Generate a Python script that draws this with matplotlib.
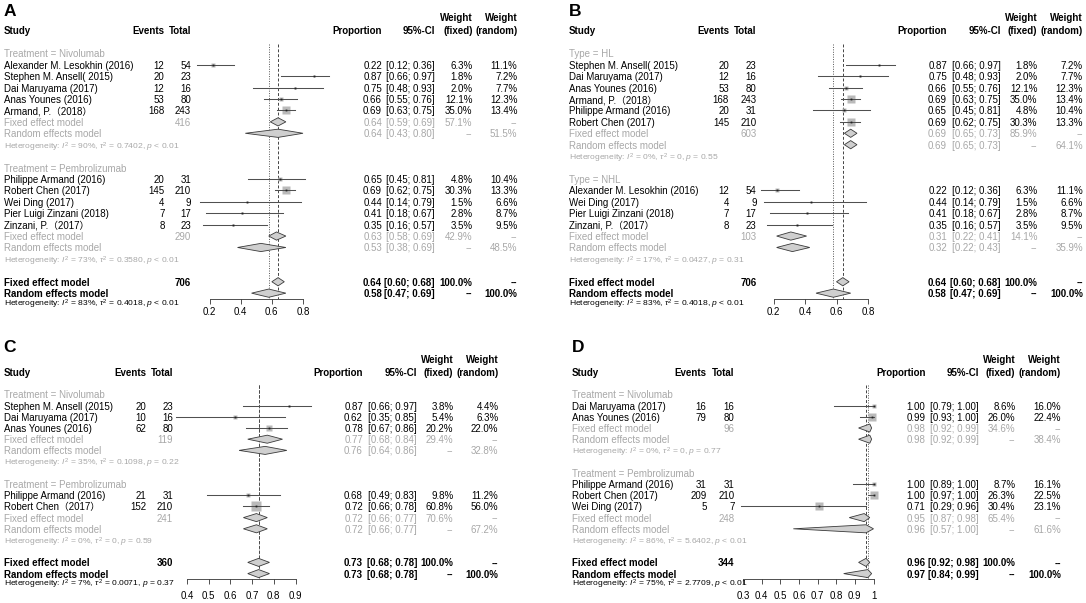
"""Forest plots of pooled response proportions (panels A-D)"""

import numpy as np
import matplotlib.pyplot as plt
from matplotlib.patches import Polygon
from matplotlib.transforms import blended_transform_factory

plt.rcParams["font.family"] = ["Liberation Sans", "Noto Sans CJK SC"]
plt.rcParams["mathtext.fontset"] = "custom"
plt.rcParams["mathtext.rm"] = "Liberation Sans"
plt.rcParams["mathtext.it"] = "Liberation Sans:italic"
plt.rcParams["mathtext.bf"] = "Liberation Sans:bold"

W, H = 1086, 603
GREY = "#a8a8a8"
FS = 7.0
FS_HET = 6.1

# ---- panel A: subgroups by treatment
A_GROUPS = ["Treatment = Nivolumab", "Treatment = Pembrolizumab"]
A_STUDY = ["Alexander M. Lesokhin (2016)", "Stephen M. Ansell( 2015)",
           "Dai Maruyama (2017)", "Anas Younes (2016)", "Armand, P.（2018）",
           "Philippe Armand (2016)", "Robert Chen (2017)", "Wei Ding (2017)",
           "Pier Luigi Zinzani (2018)", "Zinzani, P.（2017）"]
A_GROUP = [0, 0, 0, 0, 0, 1, 1, 1, 1, 1]
A_EVENTS = [12, 20, 12, 53, 168, 20, 145, 4, 7, 8]
A_TOTAL = [54, 23, 16, 80, 243, 31, 210, 9, 17, 23]
A_PROP = [0.22, 0.87, 0.75, 0.66, 0.69, 0.65, 0.69, 0.44, 0.41, 0.35]
A_LOW = [0.12, 0.66, 0.48, 0.55, 0.63, 0.45, 0.62, 0.14, 0.18, 0.16]
A_UPP = [0.36, 0.97, 0.93, 0.76, 0.75, 0.81, 0.75, 0.79, 0.67, 0.57]
A_W_FIXED = [6.3, 1.8, 2.0, 12.1, 35.0, 4.8, 30.3, 1.5, 2.8, 3.5]
A_W_RANDOM = [11.1, 7.2, 7.7, 12.3, 13.4, 10.4, 13.3, 6.6, 8.7, 9.5]
A_SUB_N = [416, 290]
A_SUB_FIXED = [[0.64, 0.59, 0.69], [0.63, 0.58, 0.69]]
A_SUB_RANDOM = [[0.64, 0.43, 0.80], [0.53, 0.38, 0.69]]
A_SUB_W = [[57.1, 51.5], [42.9, 48.5]]
A_SUB_HET = [["90%", "0.7402", "< 0.01"], ["73%", "0.3580", "< 0.01"]]
A_N = 706
A_FIXED = [0.64, 0.60, 0.68]
A_RANDOM = [0.58, 0.47, 0.69]
A_HET = ["83%", "0.4018", "< 0.01"]
A_TICKS = [0.2, 0.4, 0.6, 0.8]

# ---- panel B: subgroups by lymphoma type
B_GROUPS = ["Type = HL", "Type = NHL"]
B_STUDY = ["Stephen M. Ansell( 2015)", "Dai Maruyama (2017)", "Anas Younes (2016)",
           "Armand, P.（2018）", "Philippe Armand (2016)", "Robert Chen (2017)",
           "Alexander M. Lesokhin (2016)", "Wei Ding (2017)",
           "Pier Luigi Zinzani (2018)", "Zinzani, P.（2017）"]
B_GROUP = [0, 0, 0, 0, 0, 0, 1, 1, 1, 1]
B_EVENTS = [20, 12, 53, 168, 20, 145, 12, 4, 7, 8]
B_TOTAL = [23, 16, 80, 243, 31, 210, 54, 9, 17, 23]
B_PROP = [0.87, 0.75, 0.66, 0.69, 0.65, 0.69, 0.22, 0.44, 0.41, 0.35]
B_LOW = [0.66, 0.48, 0.55, 0.63, 0.45, 0.62, 0.12, 0.14, 0.18, 0.16]
B_UPP = [0.97, 0.93, 0.76, 0.75, 0.81, 0.75, 0.36, 0.79, 0.67, 0.57]
B_W_FIXED = [1.8, 2.0, 12.1, 35.0, 4.8, 30.3, 6.3, 1.5, 2.8, 3.5]
B_W_RANDOM = [7.2, 7.7, 12.3, 13.4, 10.4, 13.3, 11.1, 6.6, 8.7, 9.5]
B_SUB_N = [603, 103]
B_SUB_FIXED = [[0.69, 0.65, 0.73], [0.31, 0.22, 0.41]]
B_SUB_RANDOM = [[0.69, 0.65, 0.73], [0.32, 0.22, 0.43]]
B_SUB_W = [[85.9, 64.1], [14.1, 35.9]]
B_SUB_HET = [["0%", "0", "= 0.55"], ["17%", "0.0427", "= 0.31"]]
B_N = 706
B_FIXED = [0.64, 0.60, 0.68]
B_RANDOM = [0.58, 0.47, 0.69]
B_HET = ["83%", "0.4018", "< 0.01"]
B_TICKS = [0.2, 0.4, 0.6, 0.8]

# ---- panel C
C_GROUPS = ["Treatment = Nivolumab", "Treatment = Pembrolizumab"]
C_STUDY = ["Stephen M. Ansell (2015)", "Dai Maruyama (2017)", "Anas Younes (2016)",
           "Philippe Armand (2016)", "Robert Chen（2017）"]
C_GROUP = [0, 0, 0, 1, 1]
C_EVENTS = [20, 10, 62, 21, 152]
C_TOTAL = [23, 16, 80, 31, 210]
C_PROP = [0.87, 0.62, 0.78, 0.68, 0.72]
C_LOW = [0.66, 0.35, 0.67, 0.49, 0.66]
C_UPP = [0.97, 0.85, 0.86, 0.83, 0.78]
C_W_FIXED = [3.8, 5.4, 20.2, 9.8, 60.8]
C_W_RANDOM = [4.4, 6.3, 22.0, 11.2, 56.0]
C_SUB_N = [119, 241]
C_SUB_FIXED = [[0.77, 0.68, 0.84], [0.72, 0.66, 0.77]]
C_SUB_RANDOM = [[0.76, 0.64, 0.86], [0.72, 0.66, 0.77]]
C_SUB_W = [[29.4, 32.8], [70.6, 67.2]]
C_SUB_HET = [["35%", "0.1098", "= 0.22"], ["0%", "0", "= 0.59"]]
C_N = 360
C_FIXED = [0.73, 0.68, 0.78]
C_RANDOM = [0.73, 0.68, 0.78]
C_HET = ["7%", "0.0071", "= 0.37"]
C_TICKS = [0.4, 0.5, 0.6, 0.7, 0.8, 0.9]

# ---- panel D
D_GROUPS = ["Treatment = Nivolumab", "Treatment = Pembrolizumab"]
D_STUDY = ["Dai Maruyama (2017)", "Anas Younes (2016)",
           "Philippe Armand (2016)", "Robert Chen (2017)", "Wei Ding (2017)"]
D_GROUP = [0, 0, 1, 1, 1]
D_EVENTS = [16, 79, 31, 209, 5]
D_TOTAL = [16, 80, 31, 210, 7]
D_PROP = [1.00, 0.99, 1.00, 1.00, 0.71]
D_LOW = [0.79, 0.93, 0.89, 0.97, 0.29]
D_UPP = [1.00, 1.00, 1.00, 1.00, 0.96]
D_W_FIXED = [8.6, 26.0, 8.7, 26.3, 30.4]
D_W_RANDOM = [16.0, 22.4, 16.1, 22.5, 23.1]
D_SUB_N = [96, 248]
D_SUB_FIXED = [[0.98, 0.92, 0.99], [0.95, 0.87, 0.98]]
D_SUB_RANDOM = [[0.98, 0.92, 0.99], [0.96, 0.57, 1.00]]
D_SUB_W = [[34.6, 38.4], [65.4, 61.6]]
D_SUB_HET = [["0%", "0", "= 0.77"], ["86%", "5.6402", "< 0.01"]]
D_N = 344
D_FIXED = [0.96, 0.92, 0.98]
D_RANDOM = [0.97, 0.84, 0.99]
D_HET = ["75%", "2.7709", "< 0.01"]
D_TICKS = [0.3, 0.4, 0.5, 0.6, 0.7, 0.8, 0.9, 1.0]

# pixel layout of each panel (column right edges, axis span, rows)
LAY_A = dict(study=3.5, events=164.5, total=191, prop=382, ci=435, wf=472.5, wr=517.5,
             axis=(209.5, 303), row0=30.5, dy=11.42, axis_row=23.5, letter_y=12,
             pad=2.3)
LAY_B = dict(study=569, events=729, total=756.5, prop=947, ci=1001, wf=1037.5, wr=1083,
             axis=(773.5, 868), row0=30.5, dy=11.42, axis_row=23.5, letter_y=12,
             pad=2.3)
LAY_C = dict(study=3.5, events=146, total=173, prop=363, ci=417, wf=453.5, wr=498.5,
             axis=(187, 295.5), row0=372, dy=11.2, axis_row=18.5, letter_y=348,
             pad=5.0)
LAY_D = dict(study=572, events=706.5, total=734.5, prop=925.5, ci=979, wf=1015.5, wr=1061,
             axis=(743, 873.5), row0=372, dy=11.2, axis_row=18.5, letter_y=348,
             pad=5.0)

fig = plt.figure(figsize=(W / 100, H / 100), dpi=100)


def het_text(h):
    return f"Heterogeneity: $I^2$ = {h[0]}, $\\tau^2$ = {h[1]}, $p$ {h[2]}"


def diamond(ax, est, lo, hi, row, half=0.36):
    ax.add_patch(Polygon([(lo, row), (est, row - half), (hi, row), (est, row + half)],
                         closed=True, fc="#cfcfcf", ec="#3a3a3a", lw=0.6,
                         clip_on=False, zorder=3))


def draw_panel(letter, lay, d):
    r0, dy = lay["row0"], lay["dy"]
    top, bot = -2.2, lay["axis_row"]
    y_top, y_bot = r0 + top * dy, r0 + bot * dy
    xa, xb = lay["axis"]
    ax = fig.add_axes([xa / W, 1 - y_bot / H, (xb - xa) / W, (y_bot - y_top) / H])
    ax.patch.set_visible(False)
    ticks = d["ticks"]
    ax.set_xlim(ticks[0], ticks[-1])
    ax.set_ylim(bot, top)
    ax.set_yticks([])
    ax.set_xticks(ticks, [f"{t:g}" for t in ticks])
    ax.tick_params(axis="x", length=3.6, width=0.6, pad=lay["pad"], labelsize=FS,
                   color="#333333")
    for side in ("left", "right", "top"):
        ax.spines[side].set_visible(False)
    ax.spines["bottom"].set_linewidth(0.6)
    ax.spines["bottom"].set_color("#333333")

    tr = blended_transform_factory(fig.transFigure, ax.transData)

    def put(col, row, s, color="black", bold=False, ha="right", size=FS):
        ax.text(lay[col] / W, row, s, transform=tr, ha=ha, va="center_baseline",
                color=color, fontsize=size, fontweight="bold" if bold else "normal")

    fig.text(lay["study"] / W, 1 - lay["letter_y"] / H, letter, fontsize=12.5,
             fontweight="bold", va="center", ha="left")

    # header
    put("study", 0, "Study", bold=True, ha="left")
    put("events", 0, "Events", bold=True)
    put("total", 0, "Total", bold=True)
    put("prop", 0, "Proportion", bold=True)
    put("ci", 0, "95%-CI", bold=True)
    put("wf", -1.15, "Weight", bold=True)
    put("wr", -1.15, "Weight", bold=True)
    put("wf", 0, "(fixed)", bold=True)
    put("wr", 0, "(random)", bold=True)

    # reference lines for the overall estimates
    ax.plot([d["fixed"][0]] * 2, [1.2, bot], ls=(0, (3, 2)), color="#444444",
            lw=0.7, zorder=1)
    ax.plot([d["random"][0]] * 2, [1.2, bot], ls=(0, (1, 1.5)), color="#555555",
            lw=0.7, zorder=1)

    row = 2
    for g, gname in enumerate(d["groups"]):
        put("study", row, gname, color=GREY, ha="left")
        row += 1
        for i in np.flatnonzero(np.array(d["group"]) == g):
            p, lo, hi = d["prop"][i], d["low"][i], d["upp"][i]
            put("study", row, d["study"][i], ha="left")
            put("events", row, str(d["events"][i]))
            put("total", row, str(d["total"][i]))
            put("prop", row, f"{p:.2f}")
            put("ci", row, f"[{lo:.2f}; {hi:.2f}]")
            put("wf", row, f"{d['wf'][i]:.1f}%")
            put("wr", row, f"{d['wr'][i]:.1f}%")
            side = 1.4 * np.sqrt(d["wf"][i]) * 0.72
            ax.plot(p, row, "s", ms=side, color="#bababa", mec="none",
                    clip_on=False, zorder=2)
            ax.plot([lo, hi], [row, row], color="#505050", lw=0.75,
                    clip_on=False, zorder=3)
            ax.plot(p, row, "s", ms=1.3, color="#222222", mec="none",
                    clip_on=False, zorder=4)
            row += 1
        fe, fe_lo, fe_hi = d["sub_fixed"][g]
        re, re_lo, re_hi = d["sub_random"][g]
        put("study", row, "Fixed effect model", color=GREY, ha="left")
        put("total", row, str(d["sub_n"][g]), color=GREY)
        put("prop", row, f"{fe:.2f}", color=GREY)
        put("ci", row, f"[{fe_lo:.2f}; {fe_hi:.2f}]", color=GREY)
        put("wf", row, f"{d['sub_w'][g][0]:.1f}%", color=GREY)
        put("wr", row, "--", color=GREY)
        diamond(ax, fe, fe_lo, fe_hi, row)
        row += 1
        put("study", row, "Random effects model", color=GREY, ha="left")
        put("prop", row, f"{re:.2f}", color=GREY)
        put("ci", row, f"[{re_lo:.2f}; {re_hi:.2f}]", color=GREY)
        put("wf", row, "--", color=GREY)
        put("wr", row, f"{d['sub_w'][g][1]:.1f}%", color=GREY)
        diamond(ax, re, re_lo, re_hi, row)
        row += 1
        put("study", row, het_text(d["sub_het"][g]), color=GREY, ha="left",
            size=FS_HET)
        row += 2

    fe, fe_lo, fe_hi = d["fixed"]
    re, re_lo, re_hi = d["random"]
    put("study", row, "Fixed effect model", bold=True, ha="left")
    put("total", row, str(d["n"]), bold=True)
    put("prop", row, f"{fe:.2f}", bold=True)
    put("ci", row, f"[{fe_lo:.2f}; {fe_hi:.2f}]", bold=True)
    put("wf", row, "100.0%", bold=True)
    put("wr", row, "--", bold=True)
    diamond(ax, fe, fe_lo, fe_hi, row)
    row += 1
    put("study", row, "Random effects model", bold=True, ha="left")
    put("prop", row, f"{re:.2f}", bold=True)
    put("ci", row, f"[{re_lo:.2f}; {re_hi:.2f}]", bold=True)
    put("wf", row, "--", bold=True)
    put("wr", row, "100.0%", bold=True)
    diamond(ax, re, re_lo, re_hi, row)
    row += 1
    put("study", row - 0.25, het_text(d["het"]), ha="left", size=FS_HET)


def panel_data(groups, study, group, events, total, prop, low, upp, wf, wr,
               sub_n, sub_fixed, sub_random, sub_w, sub_het, n, fixed, random,
               het, ticks):
    return dict(groups=groups, study=study, group=group, events=events, total=total,
                prop=prop, low=low, upp=upp, wf=wf, wr=wr, sub_n=sub_n,
                sub_fixed=sub_fixed, sub_random=sub_random, sub_w=sub_w,
                sub_het=sub_het, n=n, fixed=fixed, random=random, het=het,
                ticks=ticks)


draw_panel("A", LAY_A, panel_data(A_GROUPS, A_STUDY, A_GROUP, A_EVENTS, A_TOTAL,
                                  A_PROP, A_LOW, A_UPP, A_W_FIXED, A_W_RANDOM,
                                  A_SUB_N, A_SUB_FIXED, A_SUB_RANDOM, A_SUB_W,
                                  A_SUB_HET, A_N, A_FIXED, A_RANDOM, A_HET, A_TICKS))
draw_panel("B", LAY_B, panel_data(B_GROUPS, B_STUDY, B_GROUP, B_EVENTS, B_TOTAL,
                                  B_PROP, B_LOW, B_UPP, B_W_FIXED, B_W_RANDOM,
                                  B_SUB_N, B_SUB_FIXED, B_SUB_RANDOM, B_SUB_W,
                                  B_SUB_HET, B_N, B_FIXED, B_RANDOM, B_HET, B_TICKS))
draw_panel("C", LAY_C, panel_data(C_GROUPS, C_STUDY, C_GROUP, C_EVENTS, C_TOTAL,
                                  C_PROP, C_LOW, C_UPP, C_W_FIXED, C_W_RANDOM,
                                  C_SUB_N, C_SUB_FIXED, C_SUB_RANDOM, C_SUB_W,
                                  C_SUB_HET, C_N, C_FIXED, C_RANDOM, C_HET, C_TICKS))
draw_panel("D", LAY_D, panel_data(D_GROUPS, D_STUDY, D_GROUP, D_EVENTS, D_TOTAL,
                                  D_PROP, D_LOW, D_UPP, D_W_FIXED, D_W_RANDOM,
                                  D_SUB_N, D_SUB_FIXED, D_SUB_RANDOM, D_SUB_W,
                                  D_SUB_HET, D_N, D_FIXED, D_RANDOM, D_HET, D_TICKS))

fig.savefig("out.png", dpi=100)
